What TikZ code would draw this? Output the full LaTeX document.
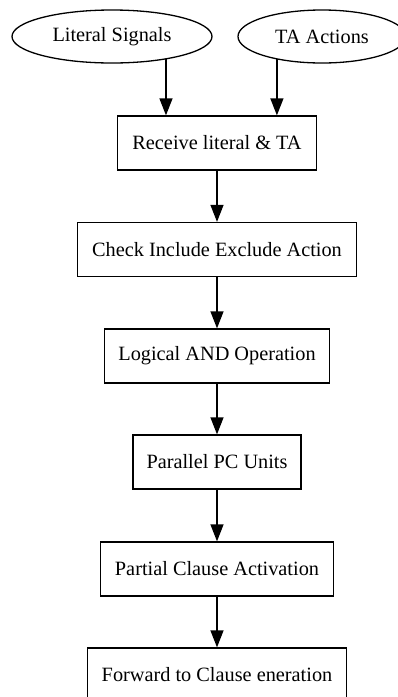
\documentclass[tikz,border=0pt]{standalone}
\usepackage{fontspec}
\setmainfont{Liberation Serif}
\usetikzlibrary{shapes.geometric,arrows.meta}
\begin{document}
\begin{tikzpicture}[x=1pt,y=-1pt,
  every node/.style={font=\fontsize{20.3}{24}\selectfont, inner sep=0pt},
  ell/.style={draw, line width=1.3pt, ellipse, minimum height=53pt},
  box/.style={draw, line width=1.3pt, rectangle, minimum height=54pt},
  arr/.style={line width=1.3pt, -{Triangle[length=17pt,width=13pt]}}]
\useasboundingbox (0,0) rectangle (398,697);
\clip (0,0) rectangle (398,697);
\node[ell, minimum width=200pt] (lit) at (112,36.5) {Literal Signals};
\node[ell, minimum width=168pt] (ta) at (322,36.5) {TA Actions};
\node[box, minimum width=199pt] (recv) at (217,143) {Receive literal \& TA};
\node[box, minimum width=279pt] (check) at (217,249.5) {Check Include Exclude Action};
\node[box, minimum width=225pt] (logic) at (217,356) {Logical AND Operation};
\node[box, minimum width=168pt] (par) at (217,462) {Parallel PC Units};
\node[box, minimum width=233pt] (part) at (217,569) {Partial Clause Activation};
\node[box, minimum width=259pt] (fwd) at (217,675) {Forward to Clause eneration};
\draw[arr] (lit.-23) -- (lit.-23 |- recv.north);
\draw[arr] (ta.-153.5) -- (ta.-153.5 |- recv.north);
\draw[arr] (recv) -- (check);
\draw[arr] (check) -- (logic);
\draw[arr] (logic) -- (par);
\draw[arr] (par) -- (part);
\draw[arr] (part) -- (fwd);
\end{tikzpicture}
\end{document}
